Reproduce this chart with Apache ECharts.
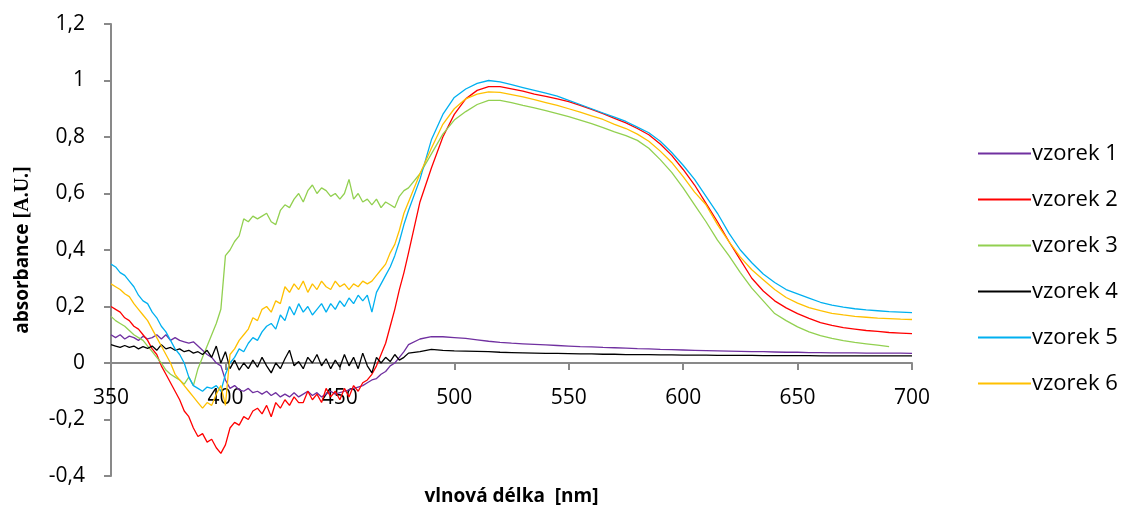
<!DOCTYPE html>
<html>
<head>
<meta charset="utf-8">
<script src="https://cdn.jsdelivr.net/npm/echarts@6/dist/echarts.min.js"></script>
<style>html,body{margin:0;padding:0;background:#fff}#c{width:1124px;height:509px}</style>
</head>
<body>
<div id="c"></div>
<script>
// wavelengths: 350..480 step 2, then 485..700 step 5
const wavelengths = [350,352,354,356,358,360,362,364,366,368,370,372,374,376,378,380,382,384,386,388,390,392,394,396,398,400,402,404,406,408,410,412,414,416,418,420,422,424,426,428,430,432,434,436,438,440,442,444,446,448,450,452,454,456,458,460,462,464,466,468,470,472,474,476,478,480,
485,490,495,500,505,510,515,520,525,530,535,540,545,550,555,560,565,570,575,580,585,590,595,600,605,610,615,620,625,630,635,640,645,650,655,660,665,670,675,680,685,690,695,700];

const seriesNames = ['vzorek 1','vzorek 2','vzorek 3','vzorek 4','vzorek 5','vzorek 6'];

const vzorek1 = [0.10,0.09,0.10,0.085,0.095,0.09,0.08,0.095,0.085,0.09,0.10,0.085,0.10,0.08,0.09,0.08,0.075,0.07,0.075,0.06,0.045,0.03,0.02,0.00,-0.01,-0.06,-0.09,-0.08,-0.095,-0.10,-0.09,-0.105,-0.10,-0.11,-0.10,-0.115,-0.105,-0.12,-0.11,-0.12,-0.105,-0.12,-0.11,-0.10,-0.115,-0.105,-0.12,-0.11,-0.10,-0.11,-0.105,-0.10,-0.095,-0.09,-0.085,-0.08,-0.07,-0.06,-0.055,-0.04,-0.03,-0.01,0.00,0.02,0.04,0.065,
0.085,0.093,0.093,0.09,0.087,0.082,0.077,0.073,0.07,0.068,0.066,0.064,0.062,0.06,0.058,0.057,0.055,0.054,0.053,0.051,0.05,0.048,0.047,0.046,0.045,0.044,0.043,0.042,0.041,0.04,0.04,0.039,0.038,0.038,0.037,0.037,0.036,0.036,0.036,0.035,0.035,0.035,0.035,0.034];

const vzorek2 = [0.20,0.19,0.18,0.16,0.15,0.13,0.12,0.10,0.08,0.05,0.03,-0.01,-0.04,-0.07,-0.10,-0.13,-0.17,-0.19,-0.23,-0.26,-0.25,-0.28,-0.27,-0.30,-0.32,-0.29,-0.23,-0.21,-0.22,-0.19,-0.20,-0.17,-0.16,-0.18,-0.15,-0.19,-0.14,-0.16,-0.13,-0.15,-0.12,-0.14,-0.14,-0.10,-0.13,-0.11,-0.14,-0.09,-0.12,-0.10,-0.13,-0.09,-0.12,-0.08,-0.10,-0.07,-0.06,-0.04,-0.01,0.03,0.07,0.13,0.19,0.26,0.32,0.39,
0.57,0.69,0.80,0.88,0.935,0.965,0.978,0.978,0.97,0.962,0.952,0.944,0.935,0.925,0.912,0.898,0.883,0.866,0.85,0.83,0.808,0.775,0.735,0.685,0.63,0.565,0.50,0.43,0.365,0.30,0.255,0.22,0.195,0.175,0.158,0.143,0.133,0.125,0.12,0.115,0.112,0.108,0.106,0.104];

const vzorek3 = [0.165,0.15,0.14,0.13,0.115,0.10,0.09,0.08,0.06,0.04,0.02,0.00,-0.025,-0.04,-0.05,-0.06,-0.075,-0.05,-0.08,-0.02,0.02,0.06,0.10,0.14,0.19,0.38,0.40,0.43,0.45,0.51,0.50,0.52,0.51,0.52,0.53,0.50,0.49,0.54,0.56,0.55,0.58,0.60,0.57,0.61,0.63,0.60,0.62,0.61,0.59,0.60,0.58,0.60,0.65,0.58,0.60,0.57,0.58,0.56,0.58,0.55,0.57,0.56,0.55,0.59,0.61,0.62,
0.67,0.74,0.81,0.86,0.89,0.915,0.93,0.93,0.922,0.912,0.903,0.893,0.883,0.872,0.86,0.847,0.833,0.818,0.805,0.788,0.76,0.72,0.675,0.62,0.56,0.50,0.435,0.38,0.32,0.265,0.22,0.175,0.15,0.128,0.11,0.097,0.087,0.079,0.073,0.068,0.063,0.058,null,null];

const vzorek4 = [0.065,0.06,0.055,0.062,0.055,0.06,0.05,0.058,0.052,0.06,0.045,0.065,0.05,0.055,0.045,0.05,0.04,0.045,0.035,0.04,0.03,0.045,0.02,0.06,0.00,0.04,-0.02,0.01,-0.025,0.00,-0.02,0.01,-0.015,0.02,-0.01,-0.035,0.00,-0.02,0.015,0.045,-0.01,0.005,-0.02,0.02,0.00,0.03,-0.01,0.015,-0.02,0.01,-0.015,0.03,-0.01,0.02,-0.02,0.035,-0.01,-0.035,0.02,0.00,0.02,0.005,0.03,0.01,0.02,0.035,
0.04,0.048,0.045,0.043,0.042,0.041,0.04,0.038,0.037,0.036,0.035,0.034,0.034,0.033,0.032,0.032,0.031,0.031,0.03,0.03,0.03,0.029,0.029,0.028,0.028,0.028,0.027,0.027,0.027,0.027,0.026,0.026,0.026,0.026,0.026,0.025,0.025,0.025,0.025,0.025,0.025,0.025,0.025,0.025];

const vzorek5 = [0.35,0.34,0.32,0.31,0.29,0.27,0.24,0.22,0.21,0.18,0.16,0.13,0.11,0.08,0.05,0.03,0.00,-0.05,-0.08,-0.09,-0.10,-0.085,-0.09,-0.08,-0.10,-0.04,0.00,0.02,0.05,0.04,0.07,0.09,0.08,0.11,0.13,0.14,0.12,0.17,0.15,0.20,0.17,0.21,0.18,0.20,0.17,0.19,0.21,0.18,0.21,0.19,0.22,0.20,0.23,0.21,0.24,0.22,0.24,0.18,0.25,0.28,0.31,0.34,0.38,0.43,0.49,0.54,
0.65,0.79,0.88,0.94,0.97,0.99,1.0,0.995,0.985,0.975,0.965,0.955,0.945,0.93,0.915,0.90,0.885,0.87,0.855,0.835,0.815,0.785,0.745,0.70,0.65,0.59,0.53,0.46,0.40,0.355,0.315,0.285,0.26,0.245,0.23,0.215,0.205,0.198,0.192,0.188,0.185,0.182,0.18,0.178];

const vzorek6 = [0.28,0.27,0.26,0.245,0.235,0.21,0.19,0.17,0.15,0.12,0.09,0.06,0.03,0.00,-0.04,-0.06,-0.08,-0.10,-0.12,-0.14,-0.16,-0.14,-0.15,-0.11,-0.08,-0.15,0.03,0.05,0.08,0.10,0.12,0.16,0.15,0.19,0.20,0.18,0.22,0.21,0.27,0.25,0.28,0.26,0.29,0.25,0.28,0.26,0.29,0.27,0.26,0.29,0.27,0.28,0.26,0.28,0.27,0.29,0.28,0.29,0.31,0.33,0.35,0.39,0.42,0.47,0.53,0.57,
0.67,0.76,0.845,0.90,0.935,0.952,0.96,0.958,0.95,0.942,0.932,0.922,0.912,0.90,0.888,0.875,0.862,0.845,0.83,0.81,0.785,0.75,0.71,0.66,0.605,0.56,0.49,0.43,0.375,0.33,0.295,0.26,0.232,0.212,0.196,0.185,0.176,0.17,0.165,0.162,0.159,0.157,0.155,0.154];

const yTicks = ['-0,4','-0,2','0','0,2','0,4','0,6','0,8','1','1,2'];
const xTicks = ['350','400','450','500','550','600','650','700'];

const values = [vzorek1, vzorek2, vzorek3, vzorek4, vzorek5, vzorek6];
const colors = ['#7030A0','#FF0000','#92D050','#000000','#00B0F0','#FFC000'];

const chart = echarts.init(document.getElementById('c'), null, {renderer:'canvas'});
const FONT = 'Open Sans';
const axisGray = '#898989';

// grid geometry: plot 24..476 px for -0.4..1.2 ; zero line offset from bottom
const gridTop = 24, gridBottom = 33, H = 509 - gridTop - gridBottom;
const zeroOffset = -H * (0 - (-0.4)) / (1.2 - (-0.4));

chart.setOption({
  animation: false,
  backgroundColor: '#fff',
  grid: {left: 111, right: 212, top: gridTop, bottom: gridBottom, containLabel: false, outerBoundsMode: 'none'},
  legend: {
    orient: 'vertical', left: 973, top: 135,
    icon: 'rect', itemWidth: 53, itemHeight: 2, itemGap: 19,
    data: seriesNames.map((n,i)=>({name:n, itemStyle:{color:colors[i]}})),
    textStyle: {fontFamily: FONT, fontSize: 22, color: '#000', lineHeight: 27, padding:[0,0,0,-4]}
  },
  xAxis: {
    type: 'value', min: 350, max: 700, interval: 50, position: 'bottom', offset: zeroOffset,
    name: 'vlnová délka  [nm]', nameLocation: 'middle', nameGap: 124,
    nameTextStyle: {fontFamily: FONT, fontWeight: 'bold', fontSize: 19, color: '#000'},
    axisLine: {show: true, onZero: false, lineStyle: {color: axisGray, width: 2}},
    axisTick: {show: true, inside: false, length: 7, lineStyle: {color: axisGray, width: 2}},
    axisLabel: {margin: 25, fontFamily: FONT, fontSize: 21, color: '#000',
      formatter: v => xTicks[Math.round((v-350)/50)] },
    splitLine: {show: false}
  },
  yAxis: {
    type: 'value', min: -0.4, max: 1.2, interval: 0.2,
    name: '{a|absorbance }{b|[A.U.]}', nameLocation: 'middle', nameGap: 78, nameRotate: 90,
    nameTextStyle: {rich: {
      a: {fontFamily: FONT, fontWeight: 'bold', fontSize: 19, color: '#000'},
      b: {fontFamily: 'Liberation Serif', fontWeight: 'bold', fontSize: 20, color: '#000'}
    }},
    axisLine: {show: true, onZero: false, lineStyle: {color: axisGray, width: 2}},
    axisTick: {show: true, inside: false, length: 7, lineStyle: {color: axisGray, width: 2}},
    axisLabel: {margin: 26, fontFamily: FONT, fontSize: 21, color: '#000',
      formatter: v => yTicks[Math.round((v+0.4)/0.2)] },
    splitLine: {show: false}
  },
  series: values.map((vals, i) => ({
    name: seriesNames[i], type: 'line', showSymbol: false, symbol: 'none',
    connectNulls: false, z: 2,
    lineStyle: {color: colors[i], width: 1.3},
    itemStyle: {color: colors[i]},
    data: wavelengths.map((w, k) => [w, vals[k]])
  }))
});
</script>
</body>
</html>
